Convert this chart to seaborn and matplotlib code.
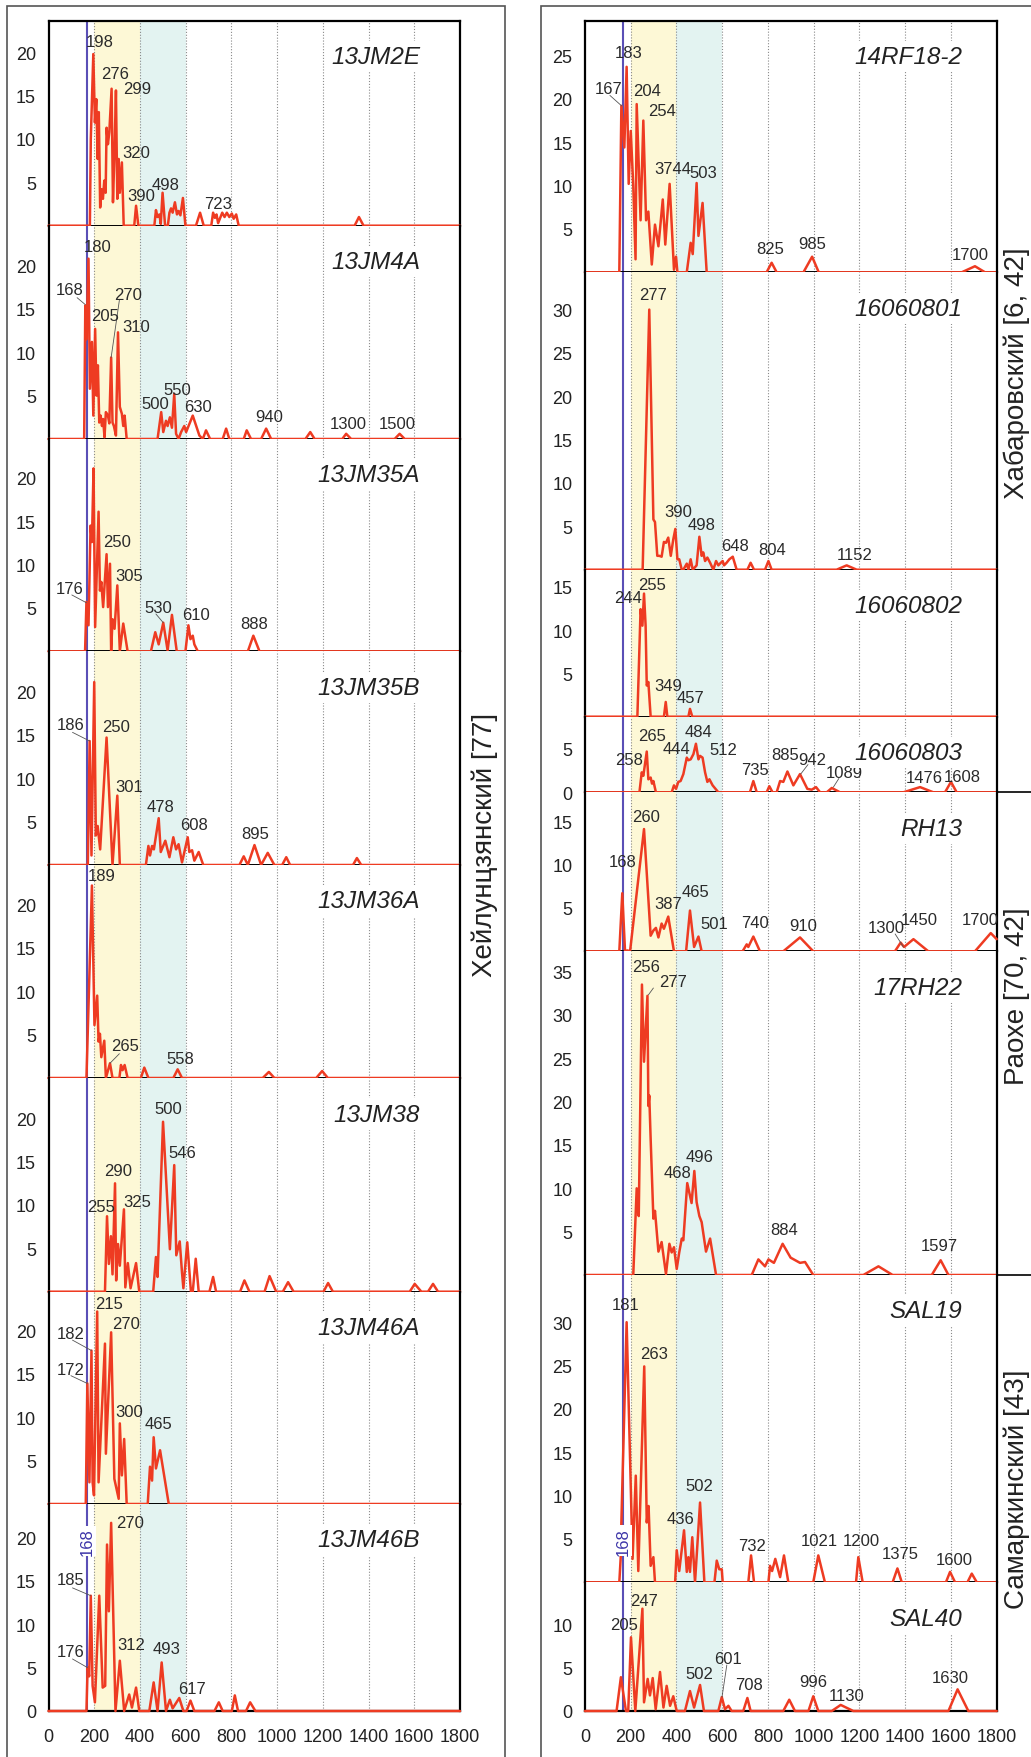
import matplotlib
matplotlib.use("Agg")
import matplotlib.pyplot as plt
import seaborn as sns
from matplotlib.lines import Line2D
from matplotlib.patches import Rectangle

sns.set_style("white")
plt.rcParams['font.family'] = ['Liberation Sans', 'DejaVu Sans']

# ---------------- data: (age, frequency) vertices ----------------
S_13JM2E = [(0, 0), (181, 0), (185, 10.0), (196, 19.8), (203, 11.9), (209, 14.6), (215, 7.7), (220, 13.1),
            (226, 2.1), (232, 4.2), (238, 3.1), (244, 5.2), (250, 3.8), (254, 11.3), (260, 9.4), (266, 10.8),
            (276, 15.8), (282, 2.7), (289, 8.7), (295, 15.6), (301, 3.1), (307, 7.7), (312, 3.8), (321, 7.3),
            (329, 0), (375, 0), (383, 2.3), (393, 0), (463, 0), (470, 1.8), (477, 1.0), (485, 1.3), (491, 0.2),
            (499, 3.8), (510, 0), (522, 0), (529, 1.5), (536, 2.0), (543, 1.5), (553, 2.7), (562, 1.3),
            (569, 1.7), (577, 1.2), (588, 3.2), (599, 0), (645, 0), (663, 1.5), (679, 0), (712, 0), (720, 1.5),
            (728, 0.9), (735, 1.3), (742, 0.3), (760, 1.5), (770, 1.0), (780, 1.5), (791, 1.0), (802, 1.4),
            (810, 0.8), (821, 1.3), (832, 0), (1339, 0), (1358, 1.0), (1378, 0), (1800, 0)]
S_13JM4A = [(0, 0), (156, 0), (161, 15.4), (166, 11.5), (175, 20.8), (181, 5.8), (190, 11.2), (196, 2.7),
            (204, 12.7), (210, 5.0), (216, 8.5), (222, 1.9), (228, 2.7), (234, 1.5), (239, 2.3), (245, 0.2),
            (251, 3.1), (260, 2.7), (266, 1.8), (274, 9.4), (280, 1.9), (286, 1.5), (295, 0.4), (304, 12.3),
            (312, 3.7), (321, 2.9), (327, 1.5), (333, 2.7), (342, 0), (477, 0), (493, 3.1), (502, 0.8),
            (514, 2.1), (521, 1.5), (531, 2.5), (540, 1.3), (550, 5.2), (558, 0.6), (569, 0), (580, 0.8),
            (594, 1.5), (602, 0.8), (631, 2.7), (660, 0.4), (675, 0), (689, 1.0), (707, 0), (762, 0),
            (777, 1.2), (791, 0), (854, 0), (867, 1.0), (886, 0), (930, 0), (952, 1.2), (974, 0), (1124, 0),
            (1145, 0.8), (1164, 0), (1285, 0), (1302, 0.6), (1324, 0), (1514, 0), (1536, 0.6), (1558, 0),
            (1800, 0)]
S_13JM35A = [(0, 0), (160, 0), (166, 5.7), (175, 3.0), (184, 14.5), (190, 12.6), (197, 21.1), (204, 2.8),
             (219, 16.1), (225, 7.0), (231, 8.0), (239, 5.1), (254, 11.2), (260, 5.1), (269, 10.1), (274, 0),
             (280, 3.7), (289, 2.6), (301, 7.6), (312, 0), (327, 3.2), (346, 0), (448, 0), (467, 2.2),
             (482, 0.8), (502, 3.3), (521, 0.1), (540, 4.2), (561, 0), (599, 0), (612, 3.0), (621, 1.4),
             (631, 1.8), (638, 0.8), (653, 0), (872, 0), (896, 1.8), (923, 0), (1800, 0)]
S_13JM35B = [(0, 0), (172, 0), (180, 14.3), (188, 1.1), (200, 21.1), (207, 3.4), (215, 4.5), (226, 1.8),
             (254, 14.7), (280, 0), (301, 8.0), (312, 0), (426, 0), (437, 2.2), (444, 1.1), (453, 2.2),
             (461, 1.8), (482, 5.4), (491, 1.5), (511, 2.8), (529, 0.9), (546, 3.2), (558, 1.8), (569, 2.4),
             (584, 0.3), (609, 3.2), (616, 1.5), (628, 1.7), (638, 0.5), (657, 1.5), (677, 0), (835, 0),
             (854, 1.0), (872, 0), (901, 2.3), (930, 0), (959, 1.4), (988, 0), (1022, 0), (1040, 0.9),
             (1057, 0), (1332, 0), (1349, 0.8), (1368, 0), (1800, 0)]
S_13JM36A = [(0, 0), (166, 0), (190, 22.2), (201, 6.1), (213, 9.5), (219, 4.2), (225, 5.1), (231, 2.4),
             (244, 4.3), (251, 0), (269, 1.7), (280, 0), (310, 0), (317, 1.5), (324, 0.9), (333, 1.5),
             (346, 0), (404, 0), (419, 1.2), (437, 0), (546, 0), (565, 1.0), (584, 0), (937, 0), (964, 0.7),
             (988, 0), (1171, 0), (1197, 0.8), (1222, 0), (1800, 0)]
S_13JM38 = [(0, 0), (247, 0), (256, 8.7), (264, 3.2), (273, 6.4), (280, 2.0), (291, 12.5), (296, 1.3),
            (304, 5.5), (312, 3.0), (330, 9.5), (336, 0.5), (347, 3.3), (359, 0.4), (383, 3.3), (397, 0),
            (458, 0), (470, 4.0), (477, 1.7), (501, 19.6), (531, 4.9), (550, 14.6), (559, 4.2), (574, 5.8),
            (584, 2.2), (590, 0.4), (607, 5.7), (623, 0), (631, 0), (644, 3.8), (657, 0), (704, 0),
            (720, 1.7), (733, 0), (838, 0), (857, 1.3), (879, 0), (945, 0), (967, 1.8), (996, 0), (1025, 0),
            (1048, 1.1), (1072, 0), (1203, 0), (1223, 1.0), (1244, 0), (1580, 0), (1602, 0.9), (1631, 0),
            (1660, 0), (1682, 0.9), (1704, 0), (1800, 0)]
S_13JM46A = [(0, 0), (163, 0), (170, 13.9), (179, 2.5), (188, 17.7), (193, 2.5), (199, 1.0), (213, 22.2),
             (219, 2.5), (247, 18.5), (251, 5.8), (274, 19.8), (288, 2.9), (307, 0.6), (312, 9.3), (321, 3.3),
             (331, 7.5), (342, 0), (434, 0), (444, 4.3), (453, 2.7), (460, 7.7), (470, 4.1), (488, 6.2),
             (526, 0), (1800, 0)]
S_13JM46B = [(0, 0), (166, 0), (171, 5.0), (178, 4.0), (185, 13.3), (193, 2.9), (203, 1.0), (222, 13.3),
             (237, 2.7), (248, 2.9), (256, 19.2), (264, 11.5), (274, 21.7), (293, 0), (312, 5.8), (331, 0),
             (353, 1.9), (365, 0.4), (383, 2.7), (397, 0), (441, 0), (460, 3.3), (477, 0), (495, 5.6),
             (514, 0), (531, 1.3), (543, 0.3), (572, 1.5), (590, 0), (604, 0), (621, 1.2), (638, 0), (726, 0),
             (745, 1.0), (762, 0), (802, 0), (815, 1.8), (829, 0), (864, 0), (882, 1.0), (905, 0), (1800, 0)]

S_14RF18 = [(0, 0), (150, 0), (159, 19.2), (172, 14.4), (182, 23.7), (191, 10.2), (200, 16.3), (211, 10.0),
            (221, 1.5), (226, 19.4), (243, 6.0), (255, 17.5), (267, 6.0), (277, 7.0), (292, 0.9), (306, 5.5),
            (321, 3.0), (340, 8.4), (351, 3.2), (370, 10.2), (389, 0.3), (398, 1.8), (404, 0), (445, 0),
            (462, 3.4), (471, 2.1), (488, 10.3), (496, 4.2), (514, 8.0), (532, 0), (794, 0), (816, 1.1),
            (838, 0), (955, 0), (993, 1.8), (1022, 0), (1647, 0), (1705, 0.7), (1749, 0), (1800, 0)]
S_160801 = [(0, 0), (252, 0), (281, 30.0), (299, 5.8), (306, 5.5), (316, 1.6), (325, 1.6), (335, 1.5),
            (345, 3.2), (354, 3.1), (364, 3.7), (375, 1.6), (386, 3.5), (395, 4.7), (404, 1.2), (412, 1.2),
            (423, 0), (430, 0), (445, 0.7), (452, 0), (462, 1.2), (471, 0), (488, 0.5), (500, 3.8),
            (510, 1.6), (517, 2.0), (525, 1.0), (535, 1.4), (547, 0.8), (561, 0), (573, 1.0), (583, 0.5),
            (590, 0.7), (602, 1.0), (608, 0.5), (619, 0.8), (631, 1.2), (646, 1.5), (663, 0), (710, 0),
            (724, 0.8), (739, 0), (787, 0), (802, 1.0), (816, 0), (1100, 0), (1144, 0.5), (1188, 0), (1800, 0)]
S_160802 = [(0, 0), (229, 0), (243, 12.4), (251, 10.5), (258, 14.2), (265, 10.5), (270, 3.6), (277, 4.0),
            (287, 0), (345, 0), (353, 1.7), (360, 0), (452, 0), (459, 0.9), (469, 0), (1800, 0)]
S_160803 = [(0, 0), (238, 0), (248, 2.3), (255, 1.9), (270, 4.7), (277, 1.5), (287, 1.7), (293, 1.0),
            (299, 1.3), (310, 0), (379, 0), (389, 0.8), (398, 0.4), (408, 1.2), (418, 1.3), (430, 2.1),
            (445, 4.0), (452, 3.7), (462, 3.8), (474, 4.4), (485, 5.6), (496, 3.8), (503, 4.2), (514, 4.0),
            (525, 2.3), (535, 1.2), (544, 1.5), (558, 0.8), (583, 0), (721, 0), (736, 1.3), (751, 0),
            (794, 0), (806, 0.7), (820, 0), (838, 0), (853, 1.3), (867, 1.2), (885, 2.4), (911, 0.8),
            (940, 2.1), (972, 0.4), (991, 0.3), (1010, 0.6), (1028, 0), (1057, 0), (1079, 0.5), (1115, 0),
            (1392, 0), (1465, 0.6), (1523, 0), (1574, 0), (1600, 1.2), (1625, 0), (1800, 0)]
S_RH13 = [(0, 0), (150, 0), (163, 6.7), (175, 0), (185, 0.1), (197, 0), (258, 14.1), (287, 1.8), (299, 2.4),
          (310, 2.7), (321, 1.6), (335, 3.2), (345, 2.6), (364, 4.0), (389, 0), (442, 0), (459, 4.7),
          (477, 0.5), (496, 1.7), (510, 0), (689, 0), (707, 0.8), (714, 0.5), (736, 1.7), (765, 0), (867, 0),
          (940, 1.6), (998, 0), (1355, 0), (1380, 1.0), (1395, 0.5), (1436, 1.4), (1501, 0), (1705, 0),
          (1774, 2.1), (1800, 1.4)]
S_17RH22 = [(0, 0), (211, 0), (226, 10.0), (235, 6.8), (249, 33.5), (258, 24.6), (273, 32.2), (277, 19.5),
            (281, 20.7), (287, 15.7), (299, 6.5), (306, 7.4), (321, 2.7), (335, 3.8), (354, 0.1), (369, 3.6),
            (379, 2.6), (389, 3.2), (401, 0.7), (412, 2.6), (423, 4.2), (430, 4.0), (447, 10.6), (466, 8.3),
            (478, 12.0), (488, 8.4), (500, 6.8), (510, 6.1), (529, 2.7), (547, 4.2), (573, 0), (729, 0),
            (758, 1.8), (787, 1.0), (802, 1.8), (826, 1.4), (864, 3.6), (899, 2.0), (940, 1.4), (962, 1.5),
            (998, 0), (1217, 0), (1283, 1.0), (1345, 0), (1516, 0), (1555, 1.7), (1589, 0), (1800, 0)]
S_SAL19 = [(0, 0), (150, 0), (156, 2.8), (159, 6.9), (182, 30.0), (208, 2.7), (222, 12.3), (233, 1.3),
           (259, 24.9), (270, 6.9), (278, 8.8), (287, 1.9), (299, 2.9), (306, 0), (394, 0), (401, 3.7),
           (412, 1.3), (433, 6.0), (445, 1.2), (452, 2.9), (459, 1.2), (469, 5.2), (481, 0), (503, 9.2),
           (522, 0), (566, 0), (576, 2.5), (587, 1.5), (598, 1.5), (602, 0), (714, 0), (726, 3.1), (739, 0),
           (802, 0), (809, 1.9), (818, 1.3), (832, 2.7), (853, 0.6), (870, 3.1), (889, 0), (998, 0),
           (1020, 3.1), (1049, 0), (1185, 0), (1195, 2.9), (1214, 0), (1345, 0), (1366, 1.6), (1385, 0),
           (1578, 0), (1596, 1.2), (1618, 0), (1672, 0), (1691, 1.0), (1713, 0), (1800, 0)]
S_SAL40 = [(0, 0), (138, 0), (157, 3.9), (179, 0), (189, 0), (201, 8.5), (220, 0), (251, 11.8), (258, 1.0),
           (274, 3.7), (284, 1.8), (296, 3.8), (309, 0.2), (328, 4.5), (343, 0.4), (357, 2.9), (372, 0.6),
           (386, 1.7), (401, 0), (437, 0), (459, 2.3), (477, 0.4), (503, 3.0), (520, 0), (583, 0), (598, 1.6),
           (612, 0.2), (627, 0.6), (641, 0), (692, 0), (710, 1.5), (724, 0), (867, 0), (893, 1.3), (918, 0),
           (977, 0), (998, 1.7), (1020, 0), (1079, 0), (1118, 0.7), (1173, 0), (1589, 0), (1629, 2.5),
           (1676, 0), (1800, 0)]

# peak labels (text, age, height) and leader lines (x0, y0, x1, y1)
L_13JM2E = [("198", 225, 21.3), ("276", 292, 17.5), ("299", 390, 15.8), ("320", 385, 8.5),
            ("390", 404, 3.5), ("498", 514, 4.7), ("723", 740, 2.6)]
L_13JM4A = [("180", 215, 22.2), ("168", 93, 17.2), ("205", 248, 14.3), ("270", 346, 16.7), ("310", 385, 13.0),
            ("500", 466, 4.1), ("550", 565, 5.7), ("630", 653, 3.7), ("940", 964, 2.6), ("1300", 1310, 1.8),
            ("1500", 1526, 1.8)]
K_13JM4A = [(125, 16.3, 161, 15.5), (310, 16.0, 274, 9.4)]
L_13JM35A = [("250", 298, 12.7), ("176", 91, 7.3), ("305", 353, 8.8), ("530", 482, 5.1), ("610", 645, 4.2),
             ("888", 901, 3.2)]
K_13JM35A = [(102, 6.5, 166, 5.6), (470, 4.3, 502, 3.3)]
L_13JM35B = [("186", 98, 16.2), ("250", 295, 16.0), ("301", 353, 9.0), ("478", 492, 6.8), ("608", 638, 4.7),
             ("895", 904, 3.6)]
K_13JM35B = [(105, 15.3, 180, 14.3)]
L_13JM36A = [("189", 232, 23.3), ("265", 336, 3.7), ("558", 577, 2.2)]
K_13JM36A = [(310, 2.8, 269, 1.7)]
L_13JM38 = [("500", 524, 21.1), ("546", 587, 16.1), ("290", 305, 14.0), ("255", 229, 9.8), ("325", 387, 10.4)]
L_13JM46A = [("215", 266, 23.1), ("270", 339, 20.8), ("182", 98, 19.7), ("172", 98, 15.5), ("300", 353, 10.7),
             ("465", 482, 9.3)]
K_13JM46A = [(105, 18.9, 188, 17.7), (98, 14.8, 170, 13.9)]
L_13JM46B = [("270", 356, 21.7), ("185", 98, 15.2), ("176", 98, 6.9), ("312", 361, 7.7), ("493", 518, 7.2),
             ("617", 628, 2.6)]
K_13JM46B = [(105, 14.2, 185, 13.3), (105, 6.0, 171, 5.0)]

L_14RF18 = [("183", 189, 25.4), ("167", 102, 21.2), ("204", 270, 21.0), ("254", 335, 18.7), ("3744", 383, 12.0),
            ("503", 517, 11.5), ("825", 809, 2.8), ("985", 995, 3.3), ("1700", 1683, 2.1)]
K_14RF18 = [(109, 20.4, 160, 19.2)]
L_160801 = [("277", 299, 31.7), ("390", 408, 6.7), ("498", 510, 5.2), ("648", 656, 2.8), ("804", 819, 2.3),
            ("1152", 1178, 1.8)]
L_160802 = [("255", 292, 15.3), ("244", 189, 13.7), ("349", 364, 3.6), ("457", 463, 2.2)]
L_160803 = [("265", 292, 6.6), ("258", 192, 3.8), ("444", 398, 5.0), ("484", 496, 7.0), ("512", 605, 4.9),
            ("735", 743, 2.6), ("885", 877, 4.4), ("942", 995, 3.8), ("1089", 1132, 2.3), ("1476", 1482, 1.7),
            ("1608", 1650, 1.8)]
K_160803 = [(975, 3.2, 943, 2.1), (1110, 1.6, 1086, 0.6)]
L_RH13 = [("260", 265, 15.6), ("168", 163, 10.3), ("465", 481, 6.9), ("387", 364, 5.5), ("501", 566, 3.2),
          ("740", 743, 3.3), ("910", 955, 3.0), ("1300", 1315, 2.8), ("1450", 1460, 3.7), ("1700", 1727, 3.7)]
K_RH13 = [(1356, 2.0, 1392, 0.5)]
L_17RH22 = [("256", 267, 35.6), ("277", 383, 33.8), ("468", 404, 11.8), ("496", 500, 13.7), ("884", 870, 5.2),
            ("1597", 1549, 3.4)]
K_17RH22 = [(299, 33.1, 277, 32.3)]
L_SAL19 = [("181", 179, 32.0), ("263", 303, 26.4), ("502", 500, 11.2), ("436", 418, 7.4), ("732", 729, 4.3),
           ("1021", 1023, 4.8), ("1200", 1210, 4.8), ("1375", 1377, 3.3), ("1600", 1613, 2.6)]
L_SAL40 = [("247", 258, 12.8), ("205", 171, 10.0), ("502", 498, 4.3), ("601", 627, 6.1), ("708", 719, 3.0),
           ("996", 998, 3.4), ("1130", 1144, 1.8), ("1630", 1596, 3.9)]
K_SAL40 = [(620, 5.3, 599, 1.6)]

LEFT = [("13JM2E", S_13JM2E, L_13JM2E, []), ("13JM4A", S_13JM4A, L_13JM4A, K_13JM4A),
        ("13JM35A", S_13JM35A, L_13JM35A, K_13JM35A), ("13JM35B", S_13JM35B, L_13JM35B, K_13JM35B),
        ("13JM36A", S_13JM36A, L_13JM36A, K_13JM36A), ("13JM38", S_13JM38, L_13JM38, []),
        ("13JM46A", S_13JM46A, L_13JM46A, K_13JM46A), ("13JM46B", S_13JM46B, L_13JM46B, K_13JM46B)]
RIGHT = [("14RF18-2", S_14RF18, L_14RF18, K_14RF18), ("16060801", S_160801, L_160801, []),
         ("16060802", S_160802, L_160802, []), ("16060803", S_160803, L_160803, K_160803),
         ("RH13", S_RH13, L_RH13, K_RH13), ("17RH22", S_17RH22, L_17RH22, K_17RH22),
         ("SAL19", S_SAL19, L_SAL19, []), ("SAL40", S_SAL40, L_SAL40, K_SAL40)]
RIGHT_TICKS = [25, 30, 15, 5, 15, 35, 30, 10]

# ---------------- layout (pixels) ----------------
W, H = 1031, 1758
PX = 8.67  # pixels per frequency unit
LEFT_EDGES = [21.7, 226.7, 440, 652.3, 866, 1079, 1292.7, 1505, 1712]
RIGHT_EDGES = [21.7, 273.3, 570.7, 717.7, 793.3, 952.3, 1276, 1583.3, 1712]
RED = "#ee3b22"
BLUE = "#5a4fb6"
YELLOW = "#fdf8d6"
TEAL = "#e3f3f1"

fig = plt.figure(figsize=(W / 100, H / 100), dpi=100)


def add_ax(x0, x1, top, bottom):
    return fig.add_axes([x0 / W, 1 - bottom / H, (x1 - x0) / W, (bottom - top) / H])


def draw(ax, name, pts, labels, leaders, ymax, ytop_tick, first, last, zero_label, sample_x):
    ax.set_xlim(0, 1800)
    ax.set_ylim(0, ymax)
    ax.axvspan(200, 400, color=YELLOW, lw=0, zorder=0)
    ax.axvspan(400, 600, color=TEAL, lw=0, zorder=0)
    for gx in range(200, 1700, 200):
        ax.axvline(gx, color="#8a8a8a", lw=0.8, ls=(0, (1, 1.6)), zorder=1)
    ax.axvline(168, color=BLUE, lw=1.5, zorder=2)
    ax.plot([0, 1800], [0, 0], color="black", lw=1.4, zorder=3, clip_on=False)
    ages = [p[0] for p in pts]
    freq = [p[1] for p in pts]
    sns.lineplot(x=ages, y=freq, ax=ax, color=RED, linewidth=1.8, sort=False,
                 estimator=None, zorder=4, clip_on=False)
    for txt, x, y in labels:
        ax.text(x, y, txt, ha="center", va="center", fontsize=12, color="#2a2a2a", zorder=6)
    for x0, y0, x1, y1 in leaders:
        ax.plot([x0, x1], [y0, y1], color="#555555", lw=0.6, zorder=5)
    ax.text(sample_x, ymax - 36 / PX, name, ha="right", va="center", fontsize=17.5, style="italic",
            color="#222222", zorder=6, bbox=dict(fc="white", ec="none", pad=3))

    ticks = list(range(0, ytop_tick + 1, 5))
    ax.set_yticks(ticks)
    ax.set_yticklabels(["0" if (t == 0 and zero_label) else ("" if t == 0 else str(t)) for t in ticks])
    ax.tick_params(axis="y", direction="out", length=6, width=1, color="#8a8a8a",
                   labelsize=13, labelcolor="#222222", pad=3)
    if last:
        ax.set_xticks(range(0, 1801, 200))
        ax.tick_params(axis="x", direction="out", length=6, width=1, color="#8a8a8a",
                       labelsize=13, labelcolor="#222222", pad=6)
    else:
        ax.set_xticks([])
    for side in ["left", "right"]:
        ax.spines[side].set_color("black")
        ax.spines[side].set_linewidth(1.6)
    ax.spines["top"].set_visible(first)
    ax.spines["bottom"].set_visible(last)
    ax.spines["top"].set_linewidth(1.6)
    ax.spines["bottom"].set_linewidth(1.6)
    ax.spines["top"].set_color("black")
    ax.spines["bottom"].set_color("black")
    ax.set_xlabel("")
    ax.set_ylabel("")


left_axes = []
for i, (name, pts, labels, leaders) in enumerate(LEFT):
    top, bottom = LEFT_EDGES[i], LEFT_EDGES[i + 1]
    ax = add_ax(48.5, 460, top, bottom)
    draw(ax, name, pts, labels, leaders, (bottom - top) / PX, 20, i == 0, i == len(LEFT) - 1,
         i == len(LEFT) - 1, 1625)
    left_axes.append(ax)

right_axes = []
for i, (name, pts, labels, leaders) in enumerate(RIGHT):
    top, bottom = RIGHT_EDGES[i], RIGHT_EDGES[i + 1]
    ax = add_ax(585, 996.7, top, bottom)
    draw(ax, name, pts, labels, leaders, (bottom - top) / PX, RIGHT_TICKS[i], i == 0, i == len(RIGHT) - 1,
         name in ("16060803", "SAL40"), 1648)
    right_axes.append(ax)

# blue "168" marks on the reference line
for ax, yv in [(left_axes[-1], 19.6), (right_axes[6], 4.8)]:
    ax.text(168, yv, "168", rotation=90, ha="center", va="center", fontsize=12, color="#3d35a8",
            zorder=6, bbox=dict(fc="white", ec="none", pad=1))

# outer frames
fig.add_artist(Rectangle((7 / W, -0.01), (505 - 7) / W, 1.01 - 6.7 / H, transform=fig.transFigure,
                         fill=False, ec="#555555", lw=1.2))
fig.add_artist(Rectangle((540.7 / W, -0.01), 1.0, 1.01 - 6.7 / H, transform=fig.transFigure,
                         fill=False, ec="#555555", lw=1.2))
for yy in (793.3, 1276):
    fig.add_artist(Line2D([996.7 / W, 1.0], [1 - yy / H, 1 - yy / H], transform=fig.transFigure,
                          color="black", lw=1.2))

# group labels
fig.text(485 / W, 1 - 845 / H, "Хейлунцзянский [77]", rotation=90, ha="center", va="center",
         fontsize=20, color="#222222")
fig.text(1017 / W, 1 - 373 / H, "Хабаровский [6, 42]", rotation=90, ha="center", va="center",
         fontsize=20, color="#222222")
fig.text(1017 / W, 1 - 996 / H, "Раохе [70, 42]", rotation=90, ha="center", va="center",
         fontsize=20, color="#222222")
fig.text(1017 / W, 1 - 1489 / H, "Самаркинский [43]", rotation=90, ha="center", va="center",
         fontsize=20, color="#222222")

fig.savefig("out.png", dpi=100)
